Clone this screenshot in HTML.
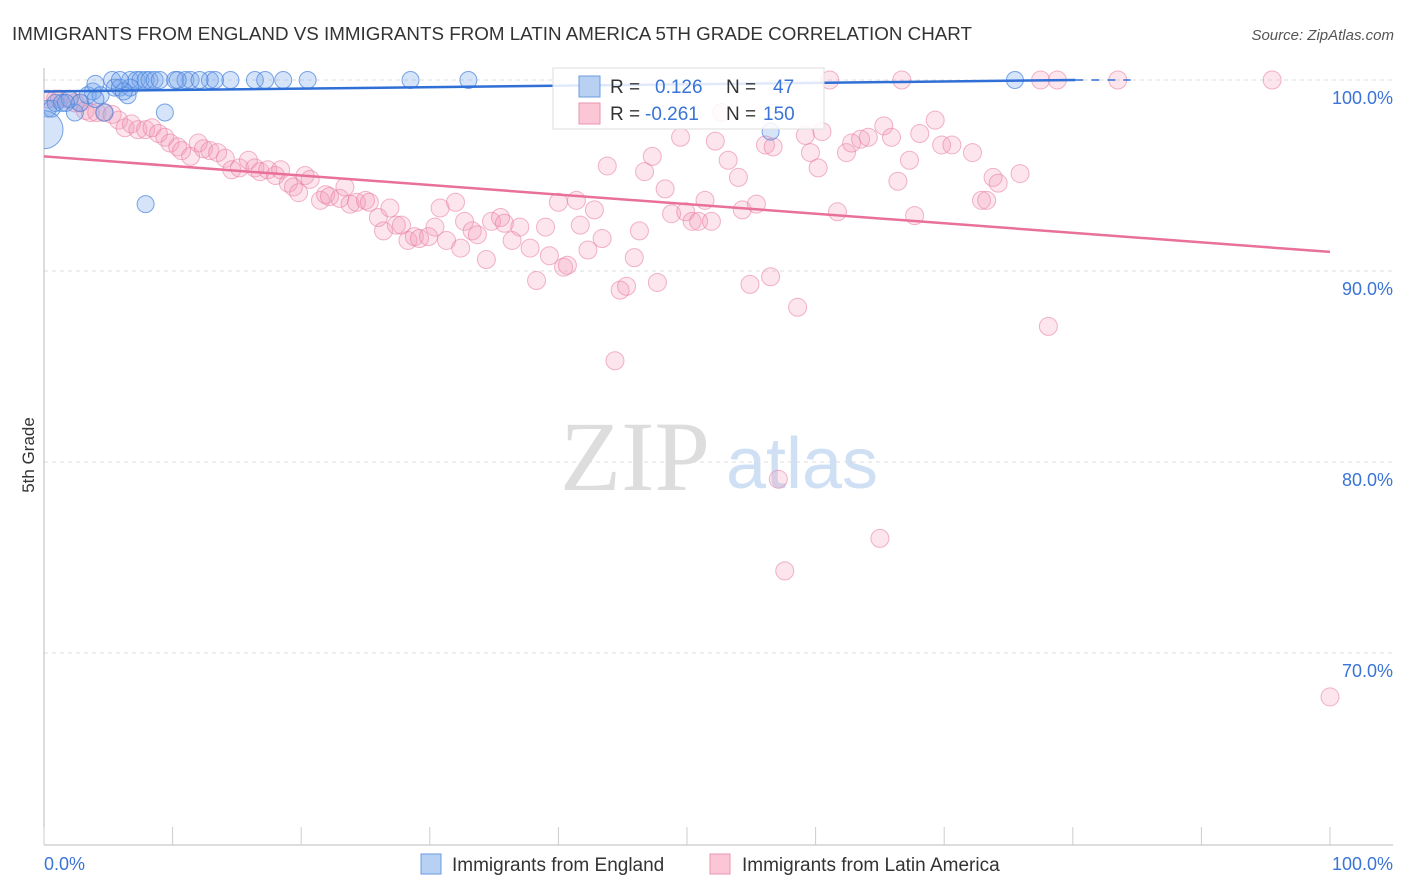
<!DOCTYPE html>
<html><head><meta charset="utf-8">
<style>
body{margin:0;background:#fff;font-family:"Liberation Sans",sans-serif;}
svg{display:block}
</style></head>
<body>
<svg id="chart" width="1406" height="892" xmlns="http://www.w3.org/2000/svg">
<defs><clipPath id="plotclip"><rect x="44" y="60" width="1360" height="785"/></clipPath></defs>
<text x="12" y="40" font-size="18" fill="#333" textLength="960" lengthAdjust="spacingAndGlyphs">IMMIGRANTS FROM ENGLAND VS IMMIGRANTS FROM LATIN AMERICA 5TH GRADE CORRELATION CHART</text>
<text x="1394" y="40" font-size="15" fill="#555" font-style="italic" text-anchor="end">Source: ZipAtlas.com</text>
<text x="0" y="0" transform="translate(34,455) rotate(-90)" font-size="17" fill="#333" text-anchor="middle">5th Grade</text>
<g>
<text x="635" y="490" font-size="100" font-family="Liberation Serif,serif" fill="#ddd" text-anchor="middle">ZIP</text>
<text x="802" y="488" font-size="72" fill="#cfe0f5" text-anchor="middle">atlas</text>
</g>
<g id="grid"></g>
<g id="axes"></g>
<g id="pts" clip-path="url(#plotclip)"></g>
<g id="lines"></g>
<g>
<rect x="553" y="68" width="271" height="61" fill="#fff" fill-opacity="0.85" stroke="#ddd"/>
<rect x="579" y="76" width="21" height="21" fill="#b8d1f3" stroke="#6a9be0"/>
<text x="610" y="93" font-size="19" fill="#333">R = </text><text x="655" y="93" font-size="19" fill="#3a74d6">0.126</text>
<text x="726" y="93" font-size="19" fill="#333">N = </text><text x="773" y="93" font-size="19" fill="#3a74d6">47</text>
<rect x="579" y="103" width="21" height="21" fill="#fbc6d6" stroke="#e895b0"/>
<text x="610" y="120" font-size="19" fill="#333">R = </text><text x="645" y="120" font-size="19" fill="#3a74d6">-0.261</text>
<text x="726" y="120" font-size="19" fill="#333">N = </text><text x="763" y="120" font-size="19" fill="#3a74d6">150</text>
</g>
<g>
<rect x="421" y="854" width="20" height="20" fill="#b8d1f3" stroke="#6a9be0"/>
<text x="452" y="871" font-size="19" fill="#333">Immigrants from England</text>
<rect x="710" y="854" width="20" height="20" fill="#fbc6d6" stroke="#e895b0"/>
<text x="742" y="871" font-size="19" fill="#333">Immigrants from Latin America</text>
</g>
</svg>
<script>
const yTicks=[100,90,80,70];
const xTickLabels=["0.0%","100.0%"];
const englandX=[0.3,0.6,0.9,1.4,2.0,2.4,2.8,3.4,3.8,4.0,4.4,5.3,5.5,5.9,6.5,6.7,7.2,7.5,7.9,8.2,8.6,9.0,9.4,10.2,11.0,11.4,12.9,13.3,14.5,16.4,17.2,18.6,20.5,28.5,33.0,56.5,75.5,7.9,0,1.7,4.7,6.7,6.2,12.1,10.4,5.9,4.0];
const englandY=[98.5,98.5,98.8,98.8,99.0,98.3,98.8,99.2,99.4,99.8,99.2,100,99.6,99.6,99.2,100,100,100,100,100,100,100,98.3,100,100,100,100,100,100,100,100,100,100,100,100,97.3,100,93.5,97.4,98.8,98.3,99.6,99.4,100,100,100,99.0];
const latinX=[0.3,0.9,1.2,1.9,2.4,2.8,3.2,3.6,4.1,4.7,5.3,5.8,6.3,6.8,7.3,7.9,8.4,8.9,9.4,9.8,10.4,10.7,11.4,12.0,12.4,12.9,13.5,14.1,14.6,15.2,15.9,16.4,16.8,17.4,18.0,18.4,19.0,19.4,19.8,20.3,20.7,21.5,21.9,22.2,23.0,23.4,23.8,24.3,25.0,25.3,26.0,26.4,26.9,27.4,27.8,28.3,28.8,29.2,29.9,30.4,30.8,31.3,32.0,32.4,32.7,33.3,33.7,34.4,34.8,35.5,35.8,36.4,37.0,37.8,38.3,39.0,39.3,40.0,40.4,40.7,41.4,41.7,42.3,42.8,43.4,43.8,44.4,44.8,45.3,45.9,46.3,46.7,47.3,47.7,48.3,48.8,49.5,49.9,50.4,50.9,51.4,51.9,52.2,52.7,53.2,54.0,54.3,54.9,55.4,56.1,56.5,56.7,57.1,57.6,58.6,59.2,59.6,60.2,60.5,61.1,61.7,62.4,62.8,63.5,64.1,65.0,65.3,65.9,66.4,66.7,67.3,67.7,68.1,69.3,69.8,70.6,72.2,72.9,73.3,73.8,74.2,75.9,77.5,78.1,78.8,83.5,95.5,100];
const latinY=[99.0,99.0,99.0,99.0,98.8,98.8,98.4,98.3,98.3,98.3,98.2,97.9,97.5,97.7,97.4,97.4,97.5,97.2,97.0,96.7,96.5,96.3,96.0,96.7,96.4,96.3,96.2,95.9,95.3,95.4,95.8,95.4,95.2,95.3,95.0,95.3,94.6,94.4,94.1,95.0,94.8,93.7,94.0,93.9,93.8,94.4,93.5,93.6,93.7,93.6,92.8,92.1,93.3,92.4,92.4,91.6,91.8,91.7,91.8,92.3,93.3,91.6,93.6,91.2,92.6,92.1,91.9,90.6,92.6,92.8,92.5,91.6,92.3,91.2,89.5,92.3,90.8,93.6,90.2,90.3,93.7,92.4,91.1,93.2,91.7,95.5,85.3,89.0,89.2,90.7,92.1,95.2,96.0,89.4,94.3,93.0,97.0,93.1,92.6,92.6,93.7,92.6,96.8,98.3,95.8,94.9,93.2,89.3,93.5,96.6,89.7,96.5,79.1,74.3,88.1,97.1,96.2,95.4,97.3,100,93.1,96.2,96.7,96.9,97.0,76.0,97.6,97.0,94.7,100,95.8,92.9,97.2,97.9,96.6,96.6,96.2,93.7,93.7,94.9,94.6,95.1,100,87.1,100,100,100,67.7];
const englandTrend=[99.4,100.0];
const englandTrendEnd=[80.2,84.5];
const latinTrend=[96.0,91.0];

const NS="http://www.w3.org/2000/svg";
const X0=44,X1=1330,Y100=80,PX10=191;
function sx(v){return X0+(X1-X0)*v/100;}
function sy(v){return Y100+(100-v)*PX10/10;}
function mk(tag,attrs,parent){const e=document.createElementNS(NS,tag);for(const k in attrs)e.setAttribute(k,attrs[k]);parent.appendChild(e);return e;}
const grid=document.getElementById('grid'),axes=document.getElementById('axes'),pts=document.getElementById('pts'),lines=document.getElementById('lines');
yTicks.forEach(t=>{
  const l=mk('line',{x1:X0,x2:1393,y1:sy(t),y2:sy(t),stroke:'#ddd','stroke-dasharray':'4 4'},grid);
  
  
  const tx=mk('text',{x:1393,y:sy(t)+24,'font-size':18,fill:'#3a74d6','text-anchor':'end'},axes);
  tx.textContent=t.toFixed(1)+'%';
  
  
});
const yAx=mk('line',{x1:X0,x2:X0,y1:68,y2:845,stroke:'#bbb'},axes);


const xAx=mk('line',{x1:X0,x2:1393,y1:845,y2:845,stroke:'#bbb'},axes);


for(let i=0;i<=10;i++){
  const tk=mk('line',{x1:sx(i*10),x2:sx(i*10),y1:827,y2:845,stroke:'#ccc'},axes);
  
  
}
xTickLabels.forEach((s,i)=>{
  const tx=mk('text',{x:i?1393:44,y:870,'font-size':18,fill:'#3a74d6','text-anchor':i?'end':'start'},axes);
  tx.textContent=s;
  
  
});
latinX.forEach((x,i)=>{
  const c=mk('circle',{cx:sx(x),cy:sy(latinY[i]),r:9,fill:'rgba(245,150,180,0.25)',stroke:'rgba(232,120,160,0.55)','stroke-width':1},pts);
  
  
});
englandX.forEach((x,i)=>{
  const big=(x===0&&englandY[i]<98);
  const c=mk('circle',{cx:sx(x),cy:sy(englandY[i]),r:big?19:8.5,fill:'rgba(120,165,235,0.3)',stroke:'rgba(70,130,220,0.7)','stroke-width':1},pts);
  
  
});
const bl=mk('line',{x1:sx(0),y1:sy(englandTrend[0]),x2:sx(englandTrendEnd[0]),y2:sy(englandTrend[1]),stroke:'#2f6fd6','stroke-width':2.5},lines);


const bd=mk('line',{x1:sx(englandTrendEnd[0]),y1:sy(englandTrend[1]),x2:sx(englandTrendEnd[1]),y2:sy(englandTrend[1]),stroke:'#2f6fd6','stroke-width':1.5,'stroke-dasharray':'8 8'},lines);


const pl=mk('line',{x1:sx(0),y1:sy(latinTrend[0]),x2:sx(100),y2:sy(latinTrend[1]),stroke:'#e8709a','stroke-width':2.5},lines);


</script>
</body></html>
